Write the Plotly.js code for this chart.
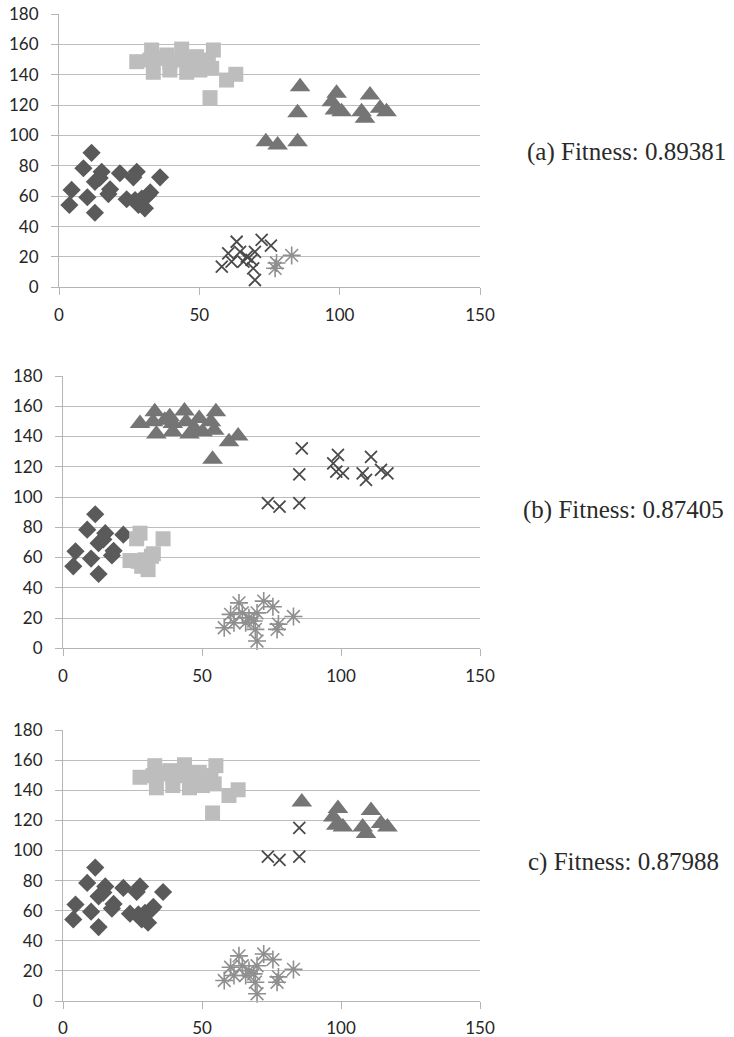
<!DOCTYPE html>
<html>
<head>
<meta charset="utf-8">
<script src="https://cdn.plot.ly/plotly-3.0.1.min.js"></script>
<style>html,body{margin:0;padding:0;background:#fff;}#chart{width:734px;height:1037px;}</style>
</head>
<body>
<div id="chart"></div>
<script>
// Point coordinates (same data set in all three panels)
const pointX = [
  11.6, 8.7, 15.2, 12.8, 14.5, 4.5, 3.7, 10.1, 12.8, 18.2, 17.6, 21.7, 27.7, 26.5, 36, 24.1, 27.1, 28.3, 30.6, 31.8, 32.5, 29.5,
  33, 38.4, 43.7, 55, 27.7, 32.4, 39.5, 44.3, 49, 53.2, 33.6, 39.5, 45.5, 50.2, 54.4, 59.7, 63, 53.8, 36.6, 47.3,
  85.9, 85, 73.7, 77.9, 85, 98.9, 97.2, 98.3, 100.7, 110.8, 107.8, 109, 114.4, 116.7,
  63.3, 72.2, 60.3, 58, 61.5, 64.5, 66.9, 68.6, 69.8, 65.7, 69.8, 69.2, 75.5, 77, 77.5, 82.9
];
const pointY = [
  88.6, 78.4, 76.1, 69.5, 72, 64.1, 54.2, 59.3, 49.1, 64.5, 61.4, 75.1, 76.1, 72.4, 72.4, 58, 57.5, 54.2, 52, 60.8, 62.5, 58.5,
  156.3, 153, 156.9, 156.3, 148.6, 149.7, 148.6, 149.7, 151.9, 149.7, 141.6, 143.1, 141.6, 143.1, 144.2, 136.5, 140.3, 124.9, 150.8, 145.3,
  132.1, 115, 95.9, 93.7, 95.9, 127.8, 122.2, 116.8, 115.6, 126.6, 115.6, 111.3, 117.9, 115.6,
  30, 31.2, 22.4, 13.6, 16.9, 23.4, 20.2, 18, 23.4, 16.9, 4.8, 12.5, 27.5, 12.5, 16, 21
];
// Cluster assignment per panel: D=diamond, S=square, T=triangle, X=cross, A=asterisk
const clusterA = "DDDDDDDDDDDDDDDDDDDDDD" + "SSSSSSSSSSSSSSSSSSSS" + "TTTTTTTTTTTTTT" + "XXXXXXXXXXXXXAAA";
const clusterB = "DDDDDDDDDDDDSSSSSSSSSS" + "TTTTTTTTTTTTTTTTTTTT" + "XXXXXXXXXXXXXX" + "AAAAAAAAAAAAAAAA";
const clusterC = "DDDDDDDDDDDDDDDDDDDDDD" + "SSSSSSSSSSSSSSSSSSSS" + "TXXXXTTTTTTTTT" + "AAAAAAAAAAAAAAAA";
const panelLabels = ["(a) Fitness: 0.89381", "(b) Fitness: 0.87405", "c) Fitness: 0.87988"];
const xTicks = [0, 50, 100, 150];
const yTicks = [0, 20, 40, 60, 80, 100, 120, 140, 160, 180];

const styles = {
  D: {symbol: 'diamond', size: 14, color: '#5a5a5a'},
  S: {symbol: 'square', size: 15, color: '#bdbdbd'},
  T: {symbol: 'triangle-up', size: 18, color: '#757575'},
  X: {symbol: 'x-thin-open', size: 12, color: '#4a4a4a', lw: 1.8},
  A: {symbol: 'asterisk-open', size: 15, color: '#8f8f8f', lw: 1.6}
};
const order = ['D', 'S', 'T', 'X', 'A'];
const panels = [clusterA, clusterB, clusterC];

const traces = [];
panels.forEach((cl, p) => {
  const suffix = p === 0 ? '' : String(p + 1);
  order.forEach(k => {
    const xs = [], ys = [];
    for (let i = 0; i < pointX.length; i++) {
      if (cl[i] === k) { xs.push(pointX[i]); ys.push(pointY[i]); }
    }
    if (!xs.length) return;
    const st = styles[k];
    traces.push({
      type: 'scatter', mode: 'markers', x: xs, y: ys,
      xaxis: 'x' + suffix, yaxis: 'y' + suffix,
      cliponaxis: false, hoverinfo: 'skip',
      marker: {symbol: st.symbol, size: st.size, color: st.color,
               line: {width: st.lw || 0, color: st.color}}
    });
  });
});

const W = 734, H = 1037;
const doms = [
  {x: [59, 480], y: [14, 287.3]},
  {x: [63, 480], y: [376, 648.3]},
  {x: [63, 480], y: [730, 1001]}
];
const tickFont = {family: 'Lato, "Open Sans", sans-serif', size: 17, color: '#262626'};
const layout = {
  width: W, height: H, margin: {l: 0, r: 0, t: 0, b: 0},
  paper_bgcolor: '#fff', plot_bgcolor: '#fff', showlegend: false,
  annotations: []
};
const annPos = [[525, 152], [521, 510], [526, 862]];
doms.forEach((d, p) => {
  const suffix = p === 0 ? '' : String(p + 1);
  layout['xaxis' + suffix] = {
    domain: [d.x[0] / W, d.x[1] / W], range: [0, 150], anchor: 'y' + suffix,
    tickvals: xTicks, ticktext: xTicks.map(String), showgrid: false, zeroline: false,
    showline: true, linecolor: '#b5b5b5', linewidth: 1, ticks: 'outside', ticklen: 7,
    tickcolor: '#b5b5b5', tickfont: tickFont, ticklabelstandoff: 5, fixedrange: true
  };
  layout['yaxis' + suffix] = {
    domain: [1 - d.y[1] / H, 1 - d.y[0] / H], range: [0, 180], anchor: 'x' + suffix,
    tickvals: yTicks, ticktext: yTicks.map(String), showgrid: true, gridcolor: '#bdbdbd', gridwidth: 1,
    zeroline: false, showline: true, linecolor: '#b5b5b5', linewidth: 1, ticks: 'outside', ticklen: 7,
    tickcolor: '#b5b5b5', tickfont: tickFont, ticklabelstandoff: 9, fixedrange: true
  };
  layout.annotations.push({
    xref: 'paper', yref: 'paper', x: annPos[p][0] / W, y: 1 - annPos[p][1] / H,
    xanchor: 'left', yanchor: 'middle', showarrow: false, text: panelLabels[p],
    font: {family: '"Liberation Serif", "DejaVu Serif", serif', size: 25, color: '#2a2a2a'}
  });
});

Plotly.newPlot('chart', traces, layout, {staticPlot: true, displayModeBar: false});
</script>
</body>
</html>
